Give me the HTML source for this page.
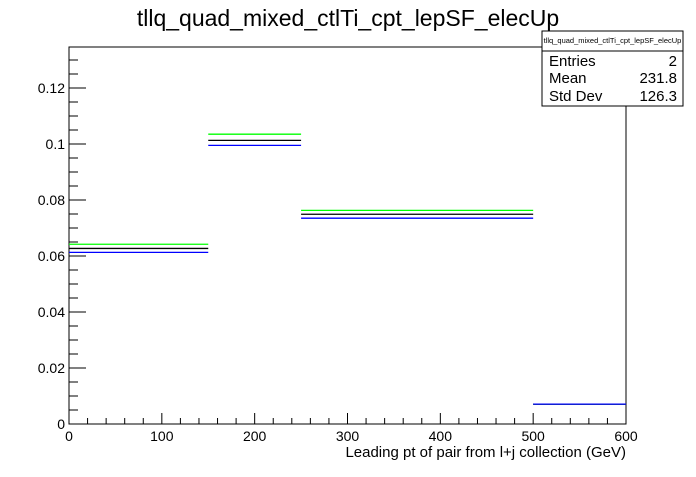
<!DOCTYPE html>
<html><head><meta charset="utf-8"><style>
body{margin:0;background:#fff;}
svg text{font-family:"Liberation Sans",sans-serif;}
</style></head><body>
<svg width="696" height="472" xmlns="http://www.w3.org/2000/svg">
<rect width="696" height="472" fill="#fff"/>
<text x="348" y="26" font-size="23" text-anchor="middle">tllq_quad_mixed_ctlTi_cpt_lepSF_elecUp</text>
<g id="axes"></g>
<g id="marks"></g>
<g>
<rect x="542" y="31" width="141" height="75" fill="#fff" stroke="#000" stroke-width="1"/>
<line x1="542" y1="51" x2="683" y2="51" stroke="#000"/>
<text x="612.5" y="43" font-size="7.5" text-anchor="middle">tllq_quad_mixed_ctlTi_cpt_lepSF_elecUp</text>
<text x="549" y="66" font-size="15">Entries</text><text x="677" y="66" font-size="15" text-anchor="end">2</text>
<text x="549" y="83" font-size="15">Mean</text><text x="677" y="83" font-size="15" text-anchor="end">231.8</text>
<text x="549" y="101" font-size="15">Std Dev</text><text x="677" y="101" font-size="15" text-anchor="end">126.3</text>
</g>
<text x="626" y="457" font-size="15" text-anchor="end">Leading pt of pair from l+j collection (GeV)</text>
</svg>
<script>
const binEdges=[0,150,250,500,600];
const greenVals=[0.0642,0.1035,0.0763,0.0071];
const blackVals=[0.0627,0.1013,0.0749,0.0071];
const blueVals=[0.0613,0.0995,0.0735,0.0071];
const xTicks=[0,100,200,300,400,500,600];
const yTicks=[0,0.02,0.04,0.06,0.08,0.1,0.12];
const yTickLabels=["0","0.02","0.04","0.06","0.08","0.1","0.12"];
const X0=69,X1=626,Y0=424,Y1=47,xMax=600,yMax=(424-47)/2800;
const xs=v=>X0+(X1-X0)*v/xMax, ys=v=>Y0-(Y0-Y1)*v/yMax;
const NS="http://www.w3.org/2000/svg";
function mk(t,a,p){const e=document.createElementNS(NS,t);for(const k in a)e.setAttribute(k,a[k]);p.appendChild(e);return e;}
const ax=document.getElementById('axes');
const fr=mk('rect',{x:X0,y:Y1,width:X1-X0,height:Y0-Y1,fill:'none',stroke:'#000'},ax);


for(let v=0;v<=600;v+=20){const maj=v%100===0;mk('line',{x1:xs(v),y1:Y0,x2:xs(v),y2:Y0-(maj?11:6),stroke:'#000'},ax);}
xTicks.forEach(v=>{const t=mk('text',{x:xs(v),y:Y0+17,'font-size':14,'text-anchor':'middle'},ax);t.textContent=v;

});
for(let i=0;i<=26;i++){const v=i*0.005;if(v>yMax)break;const maj=i%4===0;mk('line',{x1:X0,y1:ys(v),x2:X0+(maj?17:9),y2:ys(v),stroke:'#000'},ax);}
yTicks.forEach((v,i)=>{const t=mk('text',{x:X0-4,y:ys(v)+5,'font-size':14,'text-anchor':'end'},ax);t.textContent=yTickLabels[i];

});
const mg=document.getElementById('marks');
[[greenVals,'#00ff00','green'],[blackVals,'#000','black'],[blueVals,'#0000ff','blue']].forEach(([vals,c,n])=>{
vals.forEach((v,i)=>{const l=mk('line',{x1:xs(binEdges[i]),x2:xs(binEdges[i+1]),y1:ys(v),y2:ys(v),stroke:c,'stroke-width':1.3},mg);

});});
</script>
</body></html>
